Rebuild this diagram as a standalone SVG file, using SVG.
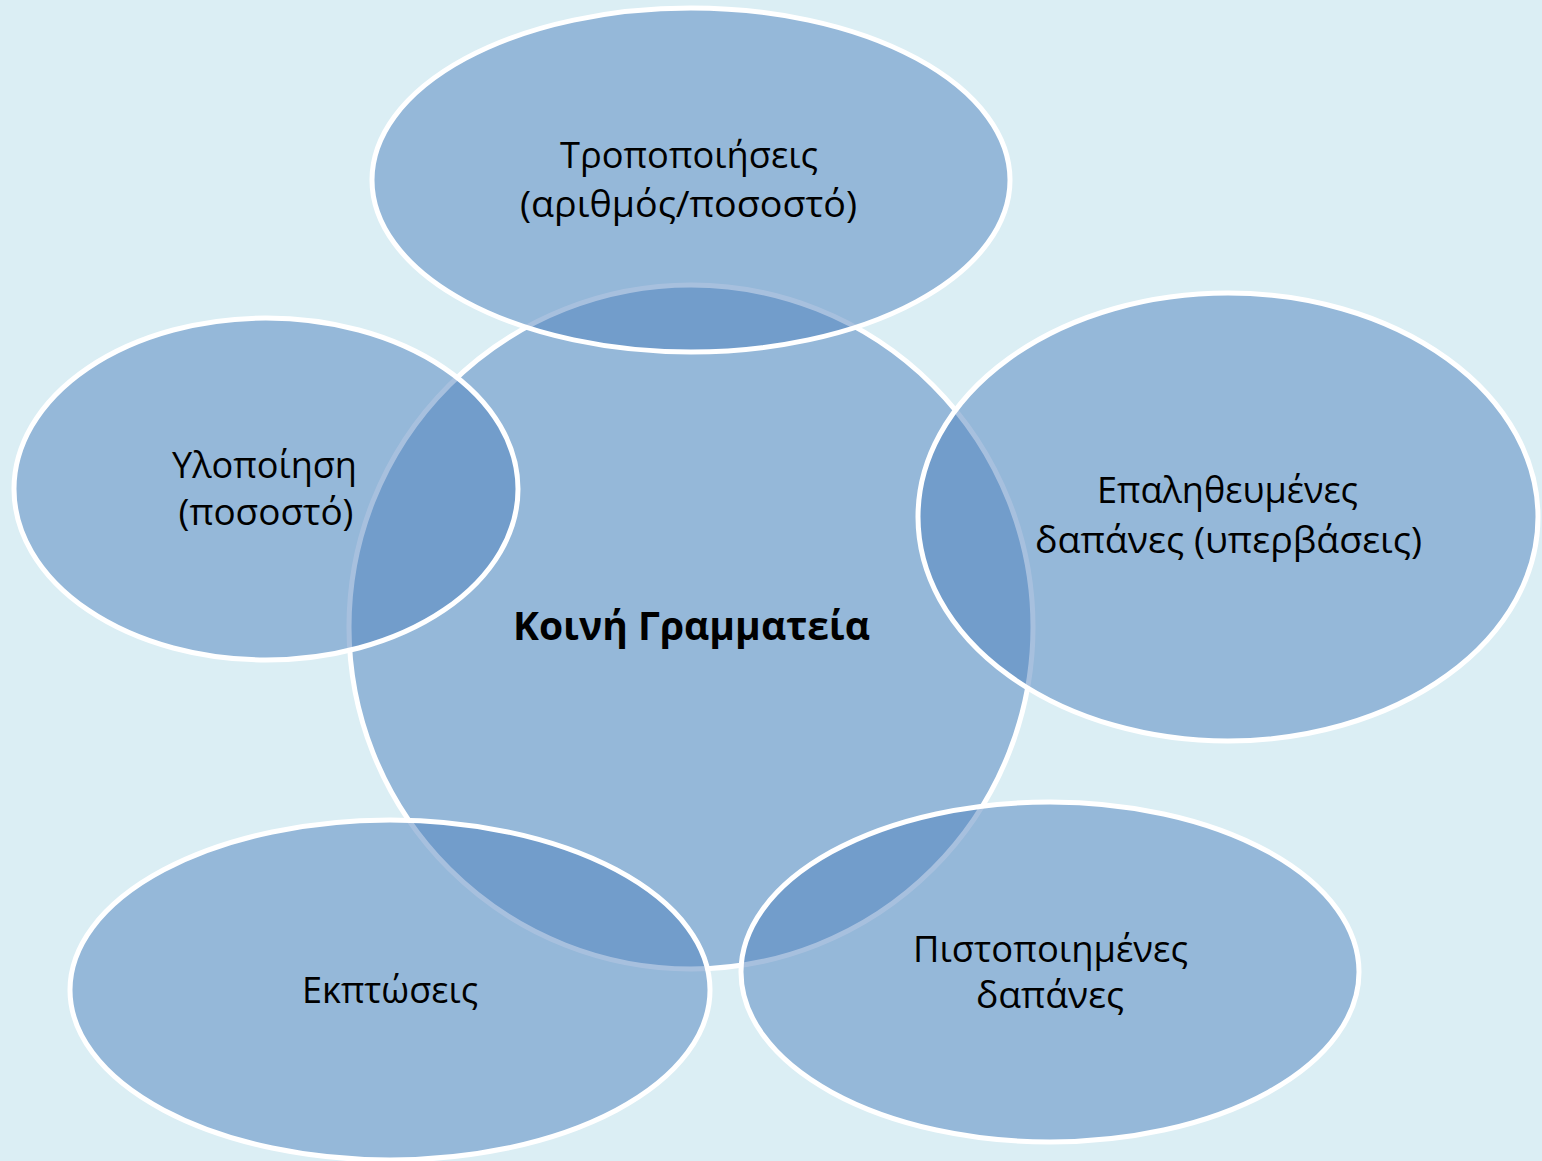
<svg xmlns="http://www.w3.org/2000/svg" width="1542" height="1161" viewBox="0 0 1542 1161">
  <style>
    .shape { fill: #4F81BD; fill-opacity: 0.5; stroke: #FFFFFF; stroke-width: 5; }
    .lbl { font-family: "Open Sans", "Noto Sans", "DejaVu Sans", sans-serif; font-size: 36px; fill: #000000; text-anchor: middle; }
    .center { font-family: "Open Sans", "Noto Sans", "DejaVu Sans", sans-serif; font-size: 40px; font-weight: bold; fill: #000000; text-anchor: middle; }
  </style>
  <rect x="0" y="0" width="1542" height="1161" fill="#DBEEF4"/>
  <g id="connectors"></g>
  <g id="node-center">
    <circle class="shape" cx="691" cy="627" r="342"/>
    <text class="center" x="691.5" y="640" textLength="357" lengthAdjust="spacingAndGlyphs">Κοινή Γραμματεία</text>
  </g>
  <g id="node-top">
    <ellipse class="shape" cx="691" cy="180" rx="319" ry="172"/>
    <text class="lbl" x="689" y="168" textLength="258" lengthAdjust="spacingAndGlyphs">Τροποποιήσεις</text>
    <text class="lbl" x="688.5" y="217" textLength="337" lengthAdjust="spacingAndGlyphs">(αριθμός/ποσοστό)</text>
  </g>
  <g id="node-left">
    <ellipse class="shape" cx="266" cy="489" rx="252" ry="171"/>
    <text class="lbl" x="264.5" y="478" textLength="185" lengthAdjust="spacingAndGlyphs">Υλοποίηση</text>
    <text class="lbl" x="266" y="525" textLength="175" lengthAdjust="spacingAndGlyphs">(ποσοστό)</text>
  </g>
  <g id="node-right">
    <ellipse class="shape" cx="1228" cy="517" rx="310" ry="224"/>
    <text class="lbl" x="1227.5" y="503" textLength="261" lengthAdjust="spacingAndGlyphs">Επαληθευμένες</text>
    <text class="lbl" x="1228.5" y="553" textLength="387" lengthAdjust="spacingAndGlyphs">δαπάνες (υπερβάσεις)</text>
  </g>
  <g id="node-bottom-left">
    <ellipse class="shape" cx="390" cy="990" rx="320" ry="170"/>
    <text class="lbl" x="390" y="1003" textLength="176" lengthAdjust="spacingAndGlyphs">Εκπτώσεις</text>
  </g>
  <g id="node-bottom-right">
    <ellipse class="shape" cx="1050" cy="972" rx="309" ry="170"/>
    <text class="lbl" x="1050.5" y="962" textLength="275" lengthAdjust="spacingAndGlyphs">Πιστοποιημένες</text>
    <text class="lbl" x="1050" y="1008" textLength="148" lengthAdjust="spacingAndGlyphs">δαπάνες</text>
  </g>
</svg>
